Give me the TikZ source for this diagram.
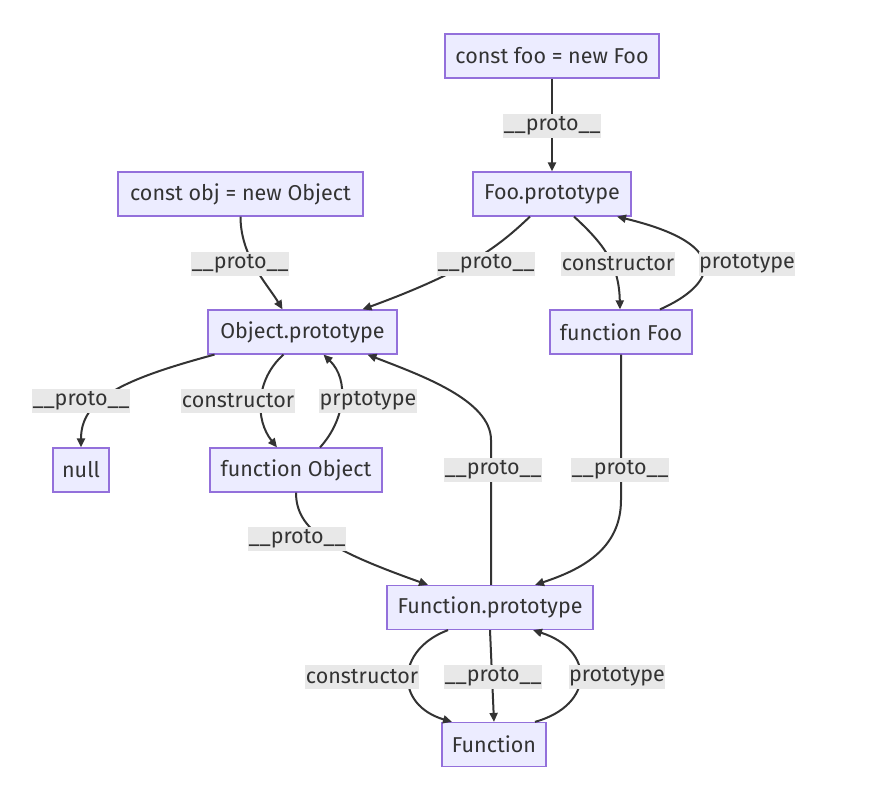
\documentclass[tikz,border=0pt]{standalone}
\usepackage{fontspec}
\setmainfont{Fira Sans}
\usetikzlibrary{arrows.meta}
\definecolor{nfill}{HTML}{ECECFF}
\definecolor{nborder}{HTML}{9370DB}
\definecolor{ink}{HTML}{333333}
\definecolor{lblbg}{HTML}{E8E8E8}
\begin{document}
\begin{tikzpicture}[x=1pt,y=-1pt,
  font=\fontsize{21.5}{25}\selectfont,
  box/.style={draw=nborder, fill=nfill, line width=1.2pt, text=ink, minimum height=44pt, inner xsep=0pt},
  lbl/.style={fill=lblbg, text=ink, inner xsep=0.5pt, inner ysep=0pt, minimum height=24pt},
  conn/.style={draw=ink, line width=2pt, -{Triangle[length=9pt,width=8pt]}}]
\useasboundingbox (0,0) rectangle (876,786);
% nodes
\node[box, minimum width=214pt] (foo) at (552,56) {const foo = new Foo};
\node[box, minimum width=158pt] (fp) at (552,194) {Foo.prototype};
\node[box, minimum width=245pt] (obj) at (240.5,194) {const obj = new Object};
\node[box, minimum width=189pt] (op) at (302.5,332) {Object.prototype};
\node[box, minimum width=142pt] (ffoo) at (621,332) {function Foo};
\node[box, minimum width=56pt] (null) at (81,470) {null};
\node[box, minimum width=172pt] (fobj) at (296,470) {function Object};
\node[box, minimum width=206pt] (fnp) at (490,607.5) {Function.prototype};
\node[box, minimum width=104pt] (fn) at (494,744.5) {Function};
% connectors
\draw[conn] (foo.south) -- (fp.north);
\draw[conn] (obj.south) .. controls +(0,40) and +(-15,-25) .. ([xshift=-20pt]op.north);
\draw[conn] ([xshift=-22pt]fp.south) .. controls (500,245) and (470,270) .. ([xshift=60pt]op.north);
\draw[conn] ([xshift=22pt]fp.south) .. controls (605,245) and (619,265) .. ([xshift=-1pt]ffoo.north);
\draw[conn] ([xshift=39pt]ffoo.north) .. controls (715,285) and (735,245) .. ([xshift=65pt]fp.south);
\draw[conn] ([xshift=-88pt]op.south) .. controls (120,380) and (81,400) .. (null.north);
\draw[conn] ([xshift=-19pt]op.south) .. controls (255,380) and (255,420) .. ([xshift=-19pt]fobj.north);
\draw[conn] ([xshift=24pt]fobj.north) .. controls (345,420) and (350,380) .. ([xshift=21pt]op.south);
\draw[conn] ([xshift=1pt]fnp.north) -- (491,440) .. controls (491,400) and (420,375) .. ([xshift=65pt]op.south);
\draw[conn] (ffoo.south) -- (621,500) .. controls (621,550) and (580,570) .. ([xshift=45pt]fnp.north);
\draw[conn] (fobj.south) .. controls (296,530) and (330,550) .. ([xshift=-62pt]fnp.north);
\draw[conn] ([xshift=-42pt]fnp.south) .. controls (395,650) and (395,705) .. ([xshift=-42pt]fn.north);
\draw[conn] (fnp.south) -- (fn.north);
\draw[conn] ([xshift=41pt]fn.north) .. controls (595,705) and (595,650) .. ([xshift=43pt]fnp.south);
% labels
\node[lbl] (l1) at (552,126) {\_\_proto\_\_};
\node[lbl] (l2) at (240,264) {\_\_proto\_\_};
\node[lbl] (l3) at (486,264) {\_\_proto\_\_};
\node[lbl] (l4) at (618,264) {constructor};
\node[lbl] (l5) at (747,264) {prototype};
\node[lbl] (l6) at (81,401) {\_\_proto\_\_};
\node[lbl] (l7) at (238,401) {constructor};
\node[lbl] (l8) at (368,401) {prptotype};
\node[lbl] (l9) at (493,470) {\_\_proto\_\_};
\node[lbl] (l10) at (620,470) {\_\_proto\_\_};
\node[lbl] (l11) at (297,539) {\_\_proto\_\_};
\node[lbl] (l12) at (362,677) {constructor};
\node[lbl] (l13) at (493,677) {\_\_proto\_\_};
\node[lbl] (l14) at (617,677) {prototype};
\end{tikzpicture}
\end{document}
